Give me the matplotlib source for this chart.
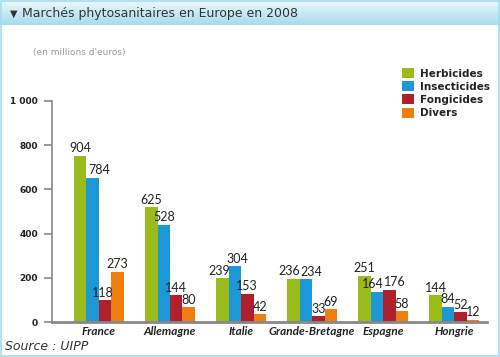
import numpy as np
import matplotlib.pyplot as plt
from matplotlib.patches import Rectangle
from matplotlib.colors import LinearSegmentedColormap

pays = ['France', 'Allemagne', 'Italie', 'Grande-Bretagne', 'Espagne', 'Hongrie']
herbicides = [904, 625, 239, 236, 251, 144]
insecticides = [784, 528, 304, 234, 164, 84]
fongicides = [118, 144, 153, 33, 176, 52]
divers = [273, 80, 42, 69, 58, 12]
series = ['Herbicides', 'Insecticides', 'Fongicides', 'Divers']
couleurs = ['#9BBB1A', '#1C98D6', '#B01F2C', '#F07E0E']
ytick_labels = ['0', '200', '400', '600', '800', '1 000']

# small sideways nudges (points) for crowded value labels: (series, country) -> dx
nudges = {(0, 3): -3, (1, 3): 4, (1, 4): -3, (2, 4): 4, (1, 0): 5, (2, 0): -2,
          (0, 2): -2, (1, 2): 2}

fig = plt.figure(figsize=(5, 3.57), dpi=100)
fig.patch.set_facecolor('white')

# title bar with a light blue gradient
grad = np.linspace(0, 1, 50).reshape(-1, 1)
bar_ax = fig.add_axes([0, 1 - 25 / 357, 1, 25 / 357])
bar_ax.imshow(grad, aspect='auto', extent=[0, 1, 0, 1],
              cmap=LinearSegmentedColormap.from_list('tb', ['#EEF8FB', '#A6DCEC']))
bar_ax.set_axis_off()
fig.text(0.02, 1 - 14 / 357, '\u25bc', fontsize=7, color='#333333', va='center')
fig.text(0.045, 1 - 14 / 357, 'Marchés phytosanitaires en Europe en 2008',
         fontsize=9, color='#333333', va='center')

# light blue border
fig.add_artist(Rectangle((0.002, 0.002), 0.996, 0.996, transform=fig.transFigure,
                         fill=False, edgecolor='#A6DCEC', lw=1.2))

fig.text(33 / 500, 1 - 53 / 357, "(en millions d'euros)", fontsize=6.5,
         color='#999999', va='center')

ax = fig.add_axes([52 / 500, 1 - 322 / 357, 435 / 500, 221 / 357])
x = np.arange(len(pays))
w = 0.175
values = [herbicides, insecticides, fongicides, divers]
for i, (name, vals, c) in enumerate(zip(series, values, couleurs)):
    bars = ax.bar(x + (i - 1.5) * w, vals, w, color=c, label=name)
    for j, b in enumerate(bars):
        ax.annotate(str(vals[j]), (b.get_x() + b.get_width() / 2, b.get_height()),
                    xytext=(nudges.get((i, j), 0), 1), textcoords='offset points',
                    ha='center', va='bottom', fontsize=9, color='#222222', family='Lato')

# the source chart's axis is drawn at 1/1.2 of the values
scale = 1.2
ax.set_ylim(0, 1000 * scale)
ax.set_yticks(np.arange(0, 1001, 200) * scale)
ax.set_yticklabels(ytick_labels, fontsize=6.5, fontweight='bold', color='#222222')
ax.set_xlim(-0.66, 5.46)
ax.set_xticks(x)
ax.set_xticklabels(pays, fontsize=8.5, fontstyle='italic', fontweight='bold',
                   color='#222222', family='Lato')
ax.tick_params(axis='x', length=0, pad=3)
ax.tick_params(axis='y', length=6, width=1.2, color='#888888', pad=4)
for s in ['top', 'right']:
    ax.spines[s].set_visible(False)
ax.spines['left'].set_color('#888888')
ax.spines['left'].set_linewidth(1.2)
ax.spines['bottom'].set_color('#888888')
ax.spines['bottom'].set_linewidth(2)
ax.set_facecolor('none')

ax.legend(loc='upper left', bbox_to_anchor=(398 / 500, 1 - 64 / 357), bbox_transform=fig.transFigure,
          frameon=False, handlelength=1.1, handleheight=1.1, handletextpad=0.6,
          labelspacing=0.25, prop={'size': 7.5, 'weight': 'bold'}, labelcolor='#222222',
          borderaxespad=0)

fig.text(5 / 500, 1 - 347 / 357, 'Source : UIPP', fontsize=9, fontstyle='italic',
         color='#333333', va='center')

fig.savefig('out.png', dpi=100)
